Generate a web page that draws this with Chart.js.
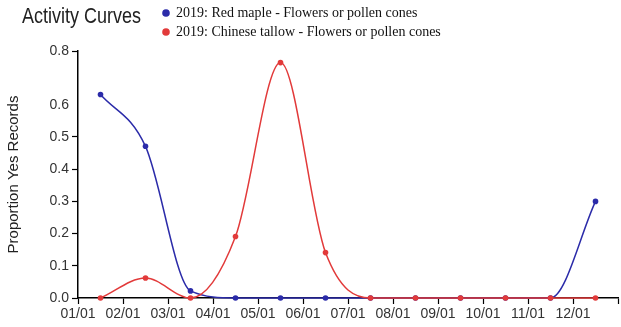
<!DOCTYPE html>
<html>
<head>
<meta charset="utf-8">
<script src="https://cdn.jsdelivr.net/npm/chart.js@4/dist/chart.umd.min.js"></script>
<style>
  html, body { margin: 0; padding: 0; background: #fff; }
  #wrap { width: 621px; height: 327px; position: relative; }
</style>
</head>
<body>
<div id="wrap"><canvas id="c" width="621" height="327"></canvas></div>
<script>
// Month tick labels (month starts) and mid-month sample positions
const monthLabels = ['01/01', '02/01', '03/01', '04/01', '05/01', '06/01',
                     '07/01', '08/01', '09/01', '10/01', '11/01', '12/01'];
const samplePositions = [0.5, 1.5, 2.5, 3.5, 4.5, 5.5, 6.5, 7.5, 8.5, 9.5, 10.5, 11.5];

// Proportion of "yes" records per month, 2019
const redMapleValues = [0.632, 0.471, 0.022, 0, 0, 0, 0, 0, 0, 0, 0, 0.300];
const chineseTallowValues = [0, 0.062, 0, 0.191, 0.731, 0.141, 0, 0, 0, 0, 0, 0];

const seriesNames = ['2019: Red maple - Flowers or pollen cones',
                     '2019: Chinese tallow - Flowers or pollen cones'];

// Y axis: regular ticks plus the top of the domain
const yTickValues = [0, 0.1, 0.2, 0.3, 0.4, 0.5, 0.6];
const yUnmarkedTicks = [0.6];
const yTop = 0.767;

const BLUE = '#2b2ba9';
const RED = '#e23a3a';

const toPoints = (vals) => vals.map((v, i) => ({ x: samplePositions[i], y: v }));

// Title and legend drawn in the band above the plot
const headerPlugin = {
  id: 'header',
  afterDraw(chart) {
    const ctx = chart.ctx;
    ctx.save();
    ctx.fillStyle = '#222';
    ctx.textBaseline = 'alphabetic';
    ctx.textAlign = 'left';
    ctx.font = '18px "Liberation Sans", Arial, sans-serif';
    ctx.translate(22, 23);
    ctx.scale(1, 1.18);
    ctx.fillText('Activity Curves', 0, 0);
    ctx.restore();

    ctx.save();
    chart.data.datasets.forEach((ds, i) => {
      const cy = 13 + i * 19;
      ctx.beginPath();
      ctx.arc(166, cy, 3.8, 0, Math.PI * 2);
      ctx.fillStyle = ds.borderColor;
      ctx.fill();
      ctx.fillStyle = '#111';
      ctx.font = '14px "Liberation Serif", "Times New Roman", serif';
      ctx.textBaseline = 'middle';
      ctx.textAlign = 'left';
      ctx.fillText(ds.label, 176, cy);
    });
    ctx.restore();
  }
};

const tickFont = { family: '"Liberation Sans", Arial, sans-serif', size: 14 };

const lineStyle = {
  borderWidth: 1.5,
  pointRadius: 2.8,
  pointHoverRadius: 2.8,
  pointBorderWidth: 0,
  cubicInterpolationMode: 'monotone',
  fill: false,
  clip: false
};

new Chart(document.getElementById('c'), {
  type: 'line',
  data: {
    datasets: [
      Object.assign({
        label: seriesNames[0],
        data: toPoints(redMapleValues),
        borderColor: BLUE,
        backgroundColor: BLUE,
        order: 2
      }, lineStyle),
      Object.assign({
        label: seriesNames[1],
        data: toPoints(chineseTallowValues),
        borderColor: RED,
        backgroundColor: RED,
        order: 1
      }, lineStyle)
    ]
  },
  options: {
    responsive: false,
    animation: false,
    devicePixelRatio: 1,
    layout: { padding: { top: 51, right: 3, left: 0, bottom: 0 } },
    plugins: {
      legend: { display: false },
      title: { display: false },
      tooltip: { enabled: false }
    },
    scales: {
      x: {
        type: 'linear',
        min: 0,
        max: 12,
        afterBuildTicks(scale) {
          scale.ticks = monthLabels.map((_, i) => ({ value: i })).concat([{ value: 12 }]);
        },
        afterFit(scale) { scale.height = 29; },
        ticks: {
          autoSkip: false,
          maxRotation: 0,
          padding: 2,
          color: '#333',
          font: tickFont,
          callback: (v) => monthLabels[v] !== undefined ? monthLabels[v] : ''
        },
        grid: {
          drawOnChartArea: false,
          drawTicks: true,
          tickLength: 6,
          tickColor: '#000',
          tickWidth: 1.2
        },
        border: { display: true, color: '#000', width: 1.5 }
      },
      y: {
        type: 'linear',
        min: 0,
        max: yTop,
        afterBuildTicks(scale) {
          scale.ticks = yTickValues.concat([yTop]).map(v => ({ value: v }));
        },
        afterFit(scale) { scale.width = 78; },
        ticks: {
          autoSkip: false,
          padding: 3,
          color: '#333',
          font: tickFont,
          callback: (v) => Number(v).toFixed(1)
        },
        grid: {
          drawOnChartArea: false,
          drawTicks: true,
          tickLength: 6,
          tickWidth: 1.2,
          tickColor: (ctx) => (ctx.tick && yUnmarkedTicks.includes(ctx.tick.value)) ? 'rgba(0,0,0,0)' : '#000'
        },
        border: { display: true, color: '#000', width: 1.5 },
        title: {
          display: true,
          text: 'Proportion Yes Records',
          color: '#222',
          font: { family: '"Liberation Sans", Arial, sans-serif', size: 15 },
          padding: { top: 5, bottom: 0 }
        }
      }
    }
  },
  plugins: [headerPlugin]
});
</script>
</body>
</html>
